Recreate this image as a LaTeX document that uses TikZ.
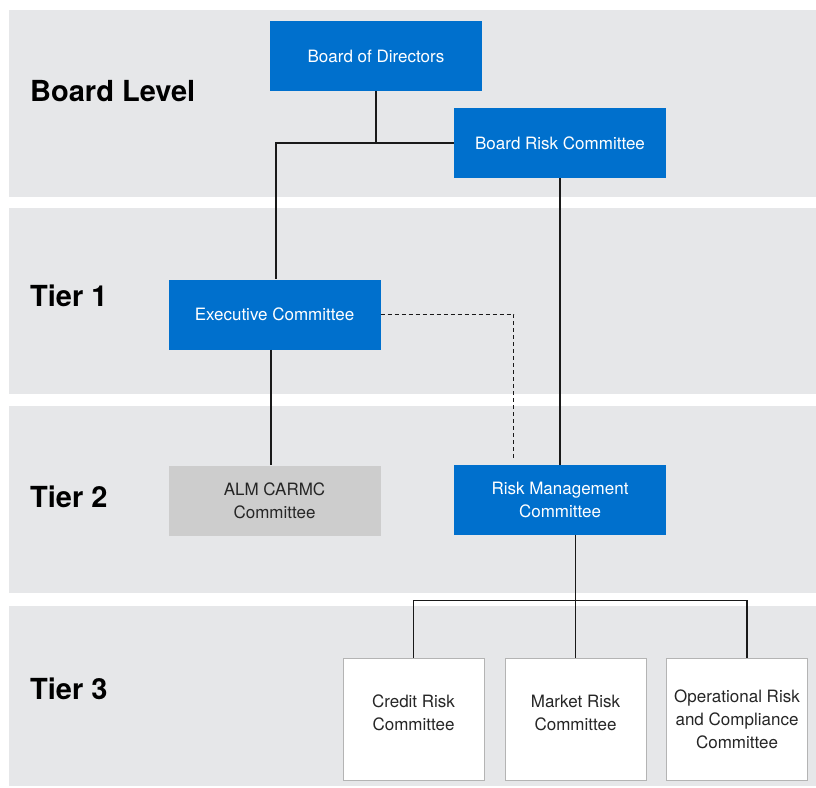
\documentclass[tikz,border=0pt]{standalone}
\usepackage{fontspec}
\setmainfont{TeX Gyre Heros}
\usetikzlibrary{calc}

\definecolor{BandGray}{HTML}{E6E7E9}
\definecolor{BoxBlue}{HTML}{0070CD}
\definecolor{BoxGray}{HTML}{CDCDCD}
\definecolor{EdgeGray}{HTML}{B4B4B4}

\begin{document}
\begin{tikzpicture}[
    % Environment Config
    x=1pt, y=-1pt,
    font=\fontsize{17}{23}\selectfont,
    Band/.style={% Style for the tier bands
      fill=BandGray,
      draw=none
    },
    TierLabel/.style={% Style for the tier names
      anchor=west,
      inner sep=0pt,
      font=\fontsize{29}{32}\selectfont\bfseries
    },
    BlueBox/.style={% Style for the blue committees
      fill=BoxBlue,
      text=white,
      align=center,
      inner sep=0pt,
      minimum width=212pt,
      minimum height=70pt
    },
    GrayBox/.style={% Style for the gray committee
      BlueBox,
      fill=BoxGray,
      text=black!85
    },
    WhiteBox/.style={% Style for the tier 3 committees
      fill=white,
      draw=EdgeGray,
      line width=0.8pt,
      text=black!85,
      align=center,
      inner sep=0pt,
      minimum width=141pt,
      minimum height=122pt
    },
    Lifted/.style={% Two lines sit a bit high in their box
      text depth=13pt
    },
    Link/.style={% Style for the solid connectors
      line width=1.2pt,
      black!90
    },
    DashLink/.style={% Style for the dashed connector
      Link,
      line width=1.3pt,
      dash pattern=on 4pt off 3pt
    }
  ]

  \useasboundingbox (0,0) rectangle (816,787);

  % Put the bands in position
  \fill[Band] (9,10) rectangle (816,197);
  \fill[Band] (9,208) rectangle (816,394);
  \fill[Band] (9,406) rectangle (816,593);
  \fill[Band] (9,606) rectangle (816,786);

  %===Tier names===
  \node[TierLabel] (LBoard) at (30,91) {Board Level};
  \node[TierLabel] (LTier1) at (30,296) {Tier 1};
  \node[TierLabel] (LTier2) at (30,497) {Tier 2};
  \node[TierLabel] (LTier3) at (30,689) {Tier 3};

  %===Board Level===
  \node[BlueBox] (BoD) at (376,56) {Board of Directors};
  \node[BlueBox] (BRC) at (560,143) {Board Risk Committee};

  %===Tier 1===
  \node[BlueBox] (Exec) at (274.5,314.5) {Executive Committee};

  %===Tier 2===
  \node[GrayBox] (ALM) at (274.5,500.5) {ALM CARMC\\Committee};
  \node[BlueBox] (RMC) at (560,500) {Risk Management\\Committee};

  %===Tier 3===
  \node[WhiteBox,Lifted] (Credit) at (413.5,719) {Credit Risk\\Committee};
  \node[WhiteBox,Lifted] (Market) at (575.5,719) {Market Risk\\Committee};
  \node[WhiteBox] (Oper) at (737,719) {Operational Risk\\and Compliance\\Committee};

  % Some free ends for the connectors
  \coordinate (DashEnd) at ($(RMC.north west)+(60,-6)$);
  \coordinate (OperTop) at ($(Oper.north)+(10,0)$);

  % Draw the connectors
  \draw[Link]
  (BoD.south)
      -- (BoD.south |- BRC.west)
  (BRC.west)
      -| ($(Exec.north)+(1.5,0)$)
  (BRC.south)
      -- (RMC.north)
  ($(Exec.south)+(-3.5,0)$)
      -- ($(ALM.north)+(-3.5,0)$)
  (RMC.south -| Market.north)
      -- (Market.north)
  (Credit.north)
      -- ++(0,-57)
      -| (OperTop);

  %===Dotted report line===
  \draw[DashLink]
  (Exec.east)
      -| (DashEnd);

\end{tikzpicture}
\end{document}
